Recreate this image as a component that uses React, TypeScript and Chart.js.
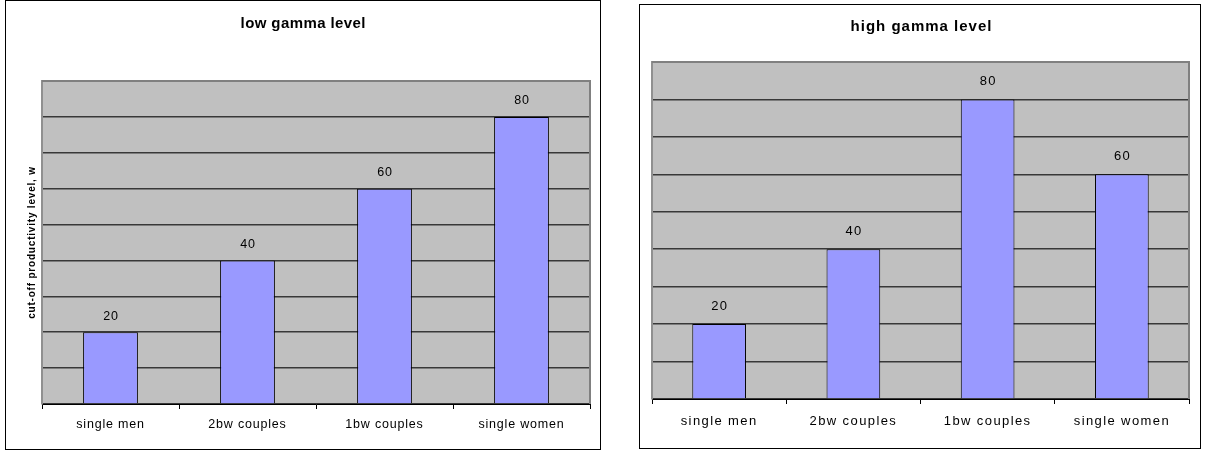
import React, { useEffect, useRef } from "react";
import { Chart, registerables } from "chart.js";

Chart.register(...registerables);

// ---------- data ----------
const categories: string[] = ["single men", "2bw couples", "1bw couples", "single women"];
const lowGammaValues: number[] = [20, 40, 60, 80];
const highGammaValues: number[] = [20, 40, 80, 60];
const yMin = 0;
const yMax = 90;
const yStep = 10;

const FONT = "'Liberation Sans', Arial, Helvetica, sans-serif";

type PanelProps = {
  title: string;
  values: number[];
  yTitle?: string;
  frame: { left: number; top: number; width: number; height: number };
  plot: { left: number; right: number; top: number; bottom: number }; // canvas coords
  titleSize: number;
  titleSpacing: number;
  titleCenter: number; // canvas y
  titleX: number; // canvas x
  labelSize: number;
  labelCenter: number; // canvas y
  valueSize: number;
  valueOffset: number;
  spacing: number;
  yTitlePad?: number;
};

function Panel(p: PanelProps) {
  const ref = useRef<HTMLCanvasElement | null>(null);
  const cw = p.frame.width - 2;
  const ch = p.frame.height - 2;

  useEffect(() => {
    if (!ref.current) return;
    const setSpacing = (chart: any) => {
      try {
        (chart.ctx as any).letterSpacing = p.spacing + "px";
      } catch (e) {}
    };
    const labelLH = p.labelSize * 1.2;
    const tickLen = 5;
    const labelPad = p.labelCenter - p.plot.bottom - tickLen - labelLH / 2;

    const plugins: any[] = [
      {
        id: "spacing",
        beforeInit: setSpacing,
        beforeUpdate: setSpacing,
        beforeLayout: setSpacing,
        beforeDraw: setSpacing,
      },
      {
        id: "plotBg",
        beforeDraw(chart: any) {
          const { ctx, chartArea: a } = chart;
          ctx.save();
          ctx.fillStyle = "#C0C0C0";
          ctx.fillRect(a.left, a.top, a.right - a.left, a.bottom - a.top);
          ctx.restore();
        },
        afterDraw(chart: any) {
          const { ctx, chartArea: a } = chart;
          ctx.save();
          ctx.strokeStyle = "#808080";
          ctx.lineWidth = 2;
          ctx.beginPath();
          ctx.moveTo(a.left, a.top);
          ctx.lineTo(a.right, a.top);
          ctx.lineTo(a.right, a.bottom);
          ctx.stroke();
          // chart title
          ctx.letterSpacing = p.titleSpacing + "px";
          ctx.font = `bold ${p.titleSize}px ${FONT}`;
          ctx.fillStyle = "#000";
          ctx.textAlign = "center";
          ctx.textBaseline = "middle";
          ctx.fillText(p.title, p.titleX + p.titleSpacing / 2, p.titleCenter);
          ctx.restore();
        },
      },
      {
        id: "barValues",
        afterDatasetsDraw(chart: any) {
          const { ctx } = chart;
          const meta = chart.getDatasetMeta(0);
          const data = chart.data.datasets[0].data as number[];
          ctx.save();
          ctx.letterSpacing = p.spacing + "px";
          ctx.font = `${p.valueSize}px ${FONT}`;
          ctx.fillStyle = "#000";
          ctx.textAlign = "center";
          ctx.textBaseline = "middle";
          meta.data.forEach((el: any, i: number) => {
            ctx.fillText(String(data[i]), el.x + p.spacing / 2, el.y - p.valueOffset);
          });
          ctx.restore();
        },
      },
    ];

    const chart = new Chart(ref.current, {
      type: "bar",
      data: {
        labels: categories,
        datasets: [
          {
            data: p.values,
            backgroundColor: "#9999FF",
            borderColor: "#000000",
            borderWidth: 1,
            barPercentage: 0.4,
            categoryPercentage: 1,
          },
        ],
      },
      options: {
        animation: false,
        responsive: false,
        maintainAspectRatio: false,
        devicePixelRatio: 1,
        layout: {
          padding: { left: 0, right: cw - p.plot.right, top: p.plot.top, bottom: 0 },
        },
        plugins: {
          legend: { display: false },
          tooltip: { enabled: false },
          title: { display: false },
        },
        scales: {
          x: {
            grid: {
              offset: true,
              drawOnChartArea: false,
              drawTicks: true,
              tickLength: tickLen,
              tickColor: "#000",
              color: "#000",
            },
            border: { color: "#000", width: 1 },
            ticks: {
              color: "#000",
              font: { family: FONT, size: p.labelSize },
              padding: labelPad,
              maxRotation: 0,
              autoSkip: false,
            },
            afterFit: (s: any) => {
              s.height = ch - p.plot.bottom;
            },
          },
          y: {
            min: yMin,
            max: yMax,
            ticks: { stepSize: yStep, display: false },
            grid: {
              drawTicks: false,
              lineWidth: 1.5,
              color: (c: any) => (c.tick && c.tick.value === yMax ? "#808080" : "#383838"),
            },
            border: { color: "#909090", width: 2 },
            title: p.yTitle
              ? {
                  display: true,
                  text: p.yTitle,
                  color: "#000",
                  font: { family: FONT, size: 10, weight: "bold" },
                  padding: { top: p.yTitlePad ?? 0, bottom: 0 },
                }
              : { display: false },
            afterFit: (s: any) => {
              s.width = p.plot.left;
            },
          },
        },
      } as any,
      plugins,
    });
    return () => chart.destroy();
  }, []);

  return (
    <div
      style={{
        position: "absolute",
        left: p.frame.left,
        top: p.frame.top,
        width: p.frame.width,
        height: p.frame.height,
        border: "1px solid #000",
        boxSizing: "border-box",
        background: "#fff",
      }}
    >
      <canvas
        ref={ref}
        width={cw}
        height={ch}
        style={{ display: "block", width: cw, height: ch }}
      />
    </div>
  );
}

export default function App() {
  return (
    <div
      style={{
        position: "absolute",
        left: 0,
        top: 0,
        width: 1206,
        height: 450,
        background: "#fff",
        fontFamily: FONT,
      }}
    >
      <Panel
        title="low gamma level"
        values={lowGammaValues}
        yTitle="cut-off productivity level, w"
        frame={{ left: 5, top: 0, width: 596, height: 450 }}
        plot={{ left: 36, right: 584, top: 80, bottom: 403 }}
        titleSize={15}
        titleSpacing={0.4}
        titleCenter={23}
        titleX={297}
        labelSize={12.5}
        labelCenter={423.5}
        valueSize={12.5}
        valueOffset={16}
        spacing={0.8}
        yTitlePad={20}
      />
      <Panel
        title="high gamma level"
        values={highGammaValues}
        frame={{ left: 639, top: 4, width: 562, height: 445 }}
        plot={{ left: 12, right: 549, top: 57, bottom: 394 }}
        titleSize={15}
        titleSpacing={1}
        titleCenter={21.5}
        titleX={281}
        labelSize={13}
        labelCenter={416.5}
        valueSize={13}
        valueOffset={18}
        spacing={1.4}
      />
    </div>
  );
}
